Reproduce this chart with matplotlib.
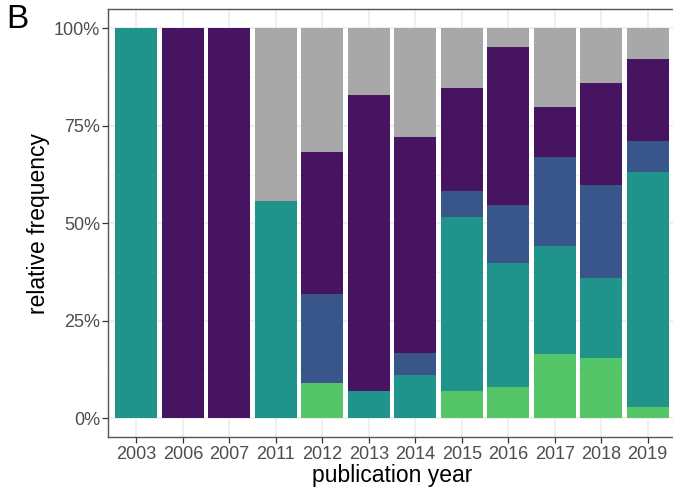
import numpy as np
import matplotlib
matplotlib.use("Agg")
import matplotlib.pyplot as plt
from matplotlib.ticker import PercentFormatter, MultipleLocator

plt.rcParams.update({
    "font.family": "sans-serif",
    "font.sans-serif": ["Liberation Sans", "DejaVu Sans"],
})

# ---- data (relative frequency per publication year, stacked bottom -> top) ----
years = ["2003", "2006", "2007", "2011", "2012", "2013", "2014",
         "2015", "2016", "2017", "2018", "2019"]
green  = [0.0, 0.0, 0.0, 0.0,   0.091, 0.0,   0.0,   0.069, 0.080, 0.165, 0.155, 0.027]
teal   = [1.0, 0.0, 0.0, 0.556, 0.0,   0.069, 0.111, 0.446, 0.317, 0.277, 0.205, 0.605]
blue   = [0.0, 0.0, 0.0, 0.0,   0.227, 0.0,   0.056, 0.068, 0.150, 0.229, 0.237, 0.078]
purple = [0.0, 1.0, 1.0, 0.0,   0.364, 0.759, 0.555, 0.263, 0.406, 0.127, 0.263, 0.212]
grey   = [0.0, 0.0, 0.0, 0.444, 0.318, 0.172, 0.278, 0.154, 0.047, 0.202, 0.140, 0.078]

series = [(green, "#54C668"), (teal, "#20948A"), (blue, "#39568A"),
          (purple, "#471462"), (grey, "#A8A8A8")]

fig = plt.figure(figsize=(6.73, 4.98), dpi=100)
ax = fig.add_axes([0.1612, 0.1215, 0.8425, 0.8604])

x = np.arange(len(years))
bottom = np.zeros(len(years))
for vals, col in series:
    v = np.array(vals)
    ax.bar(x, v, bottom=bottom, width=0.9, color=col, lw=0, zorder=2)
    bottom += v

ax.set_xlim(-0.6, len(years) - 0.4)
ax.set_ylim(-0.05, 1.05)
ax.set_xticks(x)
ax.set_xticklabels(years)
ax.yaxis.set_major_locator(MultipleLocator(0.25))
ax.yaxis.set_minor_locator(MultipleLocator(0.125))
ax.yaxis.set_major_formatter(PercentFormatter(1.0, decimals=0))

ax.grid(True, which="major", color="#EBEBEB", lw=1.1, zorder=0)
ax.grid(True, which="minor", axis="y", color="#F2F2F2", lw=0.6, zorder=0)
ax.set_axisbelow(True)

ax.tick_params(which="major", length=4, width=0.9, color="#333333",
               labelsize=13, labelcolor="#4D4D4D", pad=2)
ax.tick_params(which="minor", length=0)
for s in ax.spines.values():
    s.set_color("#555555"); s.set_linewidth(1.0)
ax.spines["right"].set_visible(False)  # cut off in the original

ax.set_xlabel("publication year", fontsize=16.5, labelpad=1)
ax.set_ylabel("relative frequency", fontsize=16.5, labelpad=3)

fig.text(0.010, 0.992, "B", fontsize=24, ha="left", va="top")

fig.savefig("out.png", dpi=100, facecolor="white")
